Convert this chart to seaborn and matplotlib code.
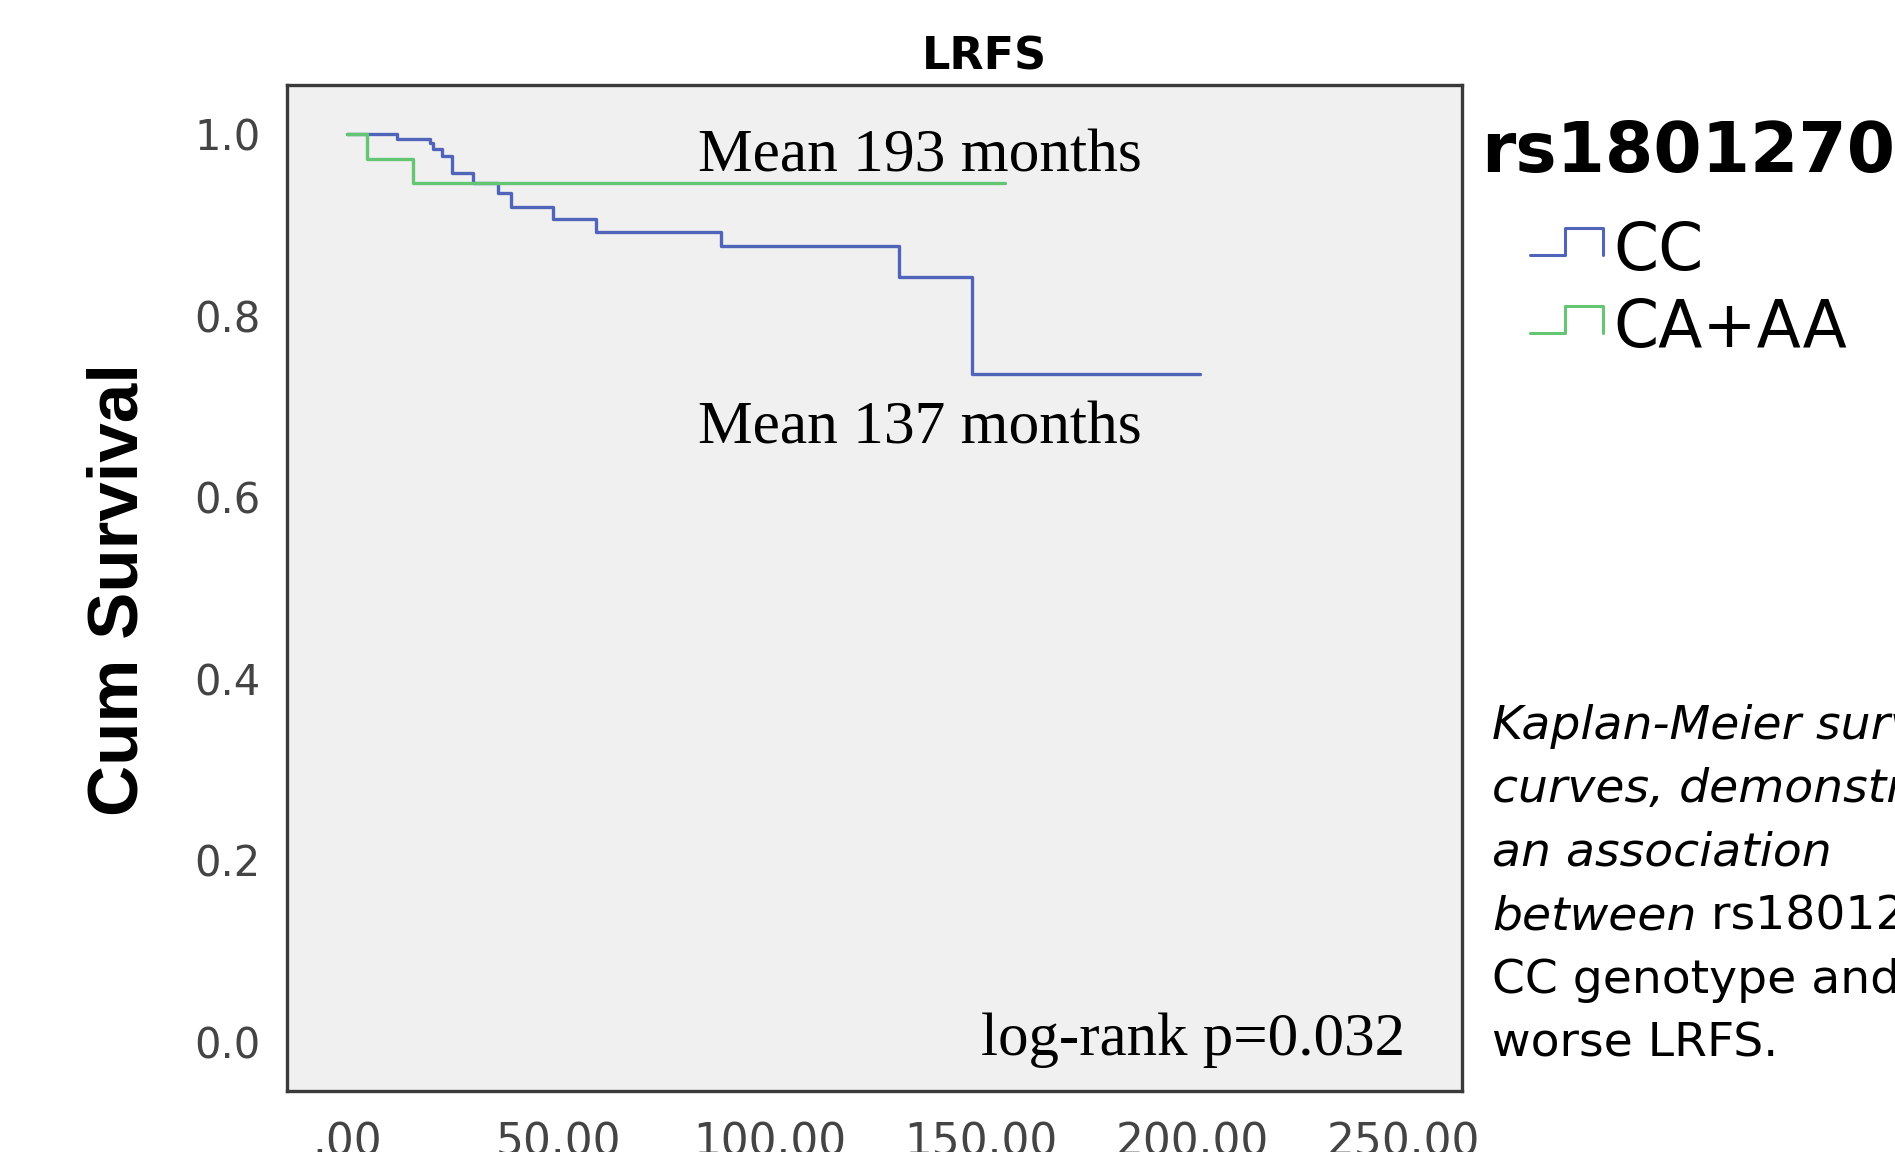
import matplotlib
matplotlib.use("Agg")
import matplotlib.pyplot as plt
from matplotlib.lines import Line2D
import pandas as pd
import seaborn as sns

# ---- values ----
cc_months = [0, 11.8, 19.6, 20.4, 22.4, 24.8, 29.9, 35.8, 38.7, 48.8, 58.9, 88.6, 130.7, 147.9, 201.9]
cc_surv = [1.000, 0.994, 0.990, 0.983, 0.976, 0.957, 0.946, 0.935, 0.920, 0.906, 0.892, 0.877, 0.842, 0.736, 0.736]
ca_aa_months = [0, 4.8, 15.7, 155.7]
ca_aa_surv = [1.000, 0.972, 0.946, 0.946]
group_names = ["CC", "CA+AA"]
group_colors = {"CC": "#5064b9", "CA+AA": "#64c672"}

x_ticks = [0, 50, 100, 150, 200, 250]
x_tick_labels = [".00", "50.00", "100.00", "150.00", "200.00", "250.00"]
y_ticks = [0.0, 0.2, 0.4, 0.6, 0.8, 1.0]
y_tick_labels = ["0.0", "0.2", "0.4", "0.6", "0.8", "1.0"]

caption_lines = ["Kaplan-Meier survival", "curves, demonstrating", "an association"]
caption_rest = ["CC genotype and", "worse LRFS."]

W, H = 1895, 1152


def fx(px):
    return px / W


def fy(py):
    return 1 - py / H


df = pd.concat([
    pd.DataFrame({"months": cc_months, "survival": cc_surv, "group": group_names[0]}),
    pd.DataFrame({"months": ca_aa_months, "survival": ca_aa_surv, "group": group_names[1]}),
], ignore_index=True)

sns.set_style("white")
plt.rcParams["font.family"] = ["DejaVu Sans"]
plt.rcParams["text.color"] = "black"

fig = plt.figure(figsize=(W / 100, H / 100), dpi=100)
fig.patch.set_facecolor("white")
ax = fig.add_axes([fx(287), fy(1091), (1462 - 287) / W, (1091 - 85) / H])
ax.set_facecolor("#f0f0f0")

sns.lineplot(data=df, x="months", y="survival", hue="group", palette=group_colors,
             drawstyle="steps-post", estimator=None, sort=False, legend=False,
             linewidth=2.4, ax=ax)

ax.set_xlim(-14.2, 263.9)
ax.set_ylim(-0.054, 1.054)
ax.set_xticks(x_ticks)
ax.set_xticklabels(x_tick_labels)
ax.set_yticks(y_ticks)
ax.set_yticklabels(y_tick_labels)
ax.set_xlabel("")
ax.set_ylabel("")
ax.tick_params(axis="both", direction="out", length=16, width=1.5, color="#333333",
               labelcolor="#444444")
ax.tick_params(axis="x", pad=6, labelsize=31.5)
ax.tick_params(axis="y", pad=3, labelsize=30)
for sp in ax.spines.values():
    sp.set_color("#3a3a3a")
    sp.set_linewidth(2.4)

# texts
fig.text(fx(984), fy(70), "LRFS", ha="center", va="baseline", fontsize=32, weight="bold")
fig.text(fx(120), fy(590), "Cum Survival", rotation=90, ha="center", va="center",
         fontsize=51, weight="bold", family=["Liberation Sans", "DejaVu Sans"])

serif = ["Liberation Serif", "DejaVu Serif"]
fig.text(fx(698), fy(172), "Mean 193 months", va="baseline", fontsize=44.3, family=serif)
fig.text(fx(698), fy(443), "Mean 137 months", va="baseline", fontsize=44.3, family=serif)
fig.text(fx(981), fy(1055), "log-rank p=0.032", va="baseline", fontsize=43.8, family=serif)

# legend block on the right
fig.text(fx(1481), fy(172), "rs1801270", va="baseline", fontsize=50, weight="bold")
for name, base, low, top in [("CC", 270, 255, 228), ("CA+AA", 347, 333, 306)]:
    fig.add_artist(Line2D([fx(1530), fx(1565), fx(1565), fx(1603), fx(1603)],
                          [fy(low), fy(low), fy(top), fy(top), fy(low)],
                          transform=fig.transFigure, color=group_colors[name], lw=2.2))
    fig.text(fx(1613), fy(base), name, va="baseline", fontsize=46.5)

# caption (runs off the right edge, as in the source)
baselines = [739, 802.5, 866, 929.5, 993, 1056.5]
for i, line in enumerate(caption_lines):
    fig.text(fx(1492), fy(baselines[i]), line, va="baseline", fontsize=34, style="italic")
t = fig.text(fx(1492), fy(baselines[3]), "between", va="baseline", fontsize=34, style="italic")
fig.canvas.draw()
bb = t.get_window_extent()
fig.text(bb.x1 / W, fy(baselines[3]), " rs1801270", va="baseline", fontsize=34)
for i, line in enumerate(caption_rest):
    fig.text(fx(1492), fy(baselines[4 + i]), line, va="baseline", fontsize=34)

fig.savefig("out.png", dpi=100)
